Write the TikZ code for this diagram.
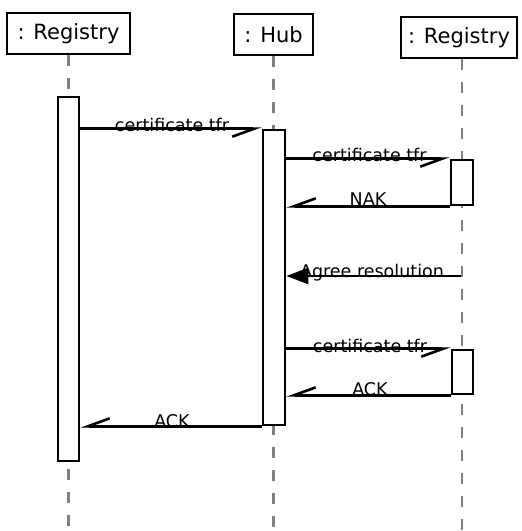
\documentclass[tikz,border=0pt]{standalone}
\usepackage{fontspec}
\setmainfont{DejaVu Sans}
\usetikzlibrary{arrows.meta}
\tikzset{
  objbox/.style={draw, line width=2.7pt, fill=white, inner sep=0pt,
    minimum height=41pt, font=\fontsize{21}{25}\selectfont},
  lifeline/.style={draw=black!50, line width=2.6pt, dash pattern=on 11pt off 12pt},
  actbar/.style={draw, line width=2.7pt, fill=white, inner sep=0pt},
  msg/.style={line width=2.6pt, -{Straight Barb[right,length=22pt,width=16pt,line width=2.6pt]}},
  asyncmsg/.style={line width=2.6pt, -{Triangle[length=22pt,width=16pt]}},
  lbl/.style={anchor=base, inner sep=0pt, font=\fontsize{17.5}{21}\selectfont}
}
\begin{document}
\begin{tikzpicture}[x=1pt,y=-1pt]
\useasboundingbox (0,0) rectangle (522,531);

% object heads
\node[objbox, minimum width=123pt] (regA) at (68.5,33.5) {: Registry};
\node[objbox, minimum width=79pt]  (hub)  at (273.5,34.5) {: Hub};
\node[objbox, minimum width=116pt] (regB) at (459,37.5) {: Registry};

% lifelines
\coordinate (endA) at (68.5,531);
\coordinate (endH) at (273.5,531);
\coordinate (endB) at (462,531);
\draw[lifeline] (regA.south) -- (endA);
\draw[lifeline] (hub.south) -- (endH);
\draw[lifeline] (regB.south -| endB) -- (endB);

% activation bars
\node[actbar, minimum width=21pt, minimum height=364pt] (aL)  at (68.5,279) {};
\node[actbar, minimum width=22pt, minimum height=295pt] (aH)  at (274,277.5) {};
\node[actbar, minimum width=22pt, minimum height=45pt]  (aR1) at (462,182.5) {};
\node[actbar, minimum width=21pt, minimum height=44pt]  (aR2) at (462.5,372) {};

% messages
\draw[msg] (aL.east |- aH.north) -- (aH.north west);
\node[lbl] (m1) at (172,131) {certificate tfr};

\draw[msg] (aH.east |- aR1.north) -- (aR1.north west);
\node[lbl] (m2) at (369.5,161) {certificate tfr};

\draw[msg] (aR1.south west) -- (aH.east |- aR1.south);
\node[lbl] (m3) at (368,205) {NAK};

\coordinate (agreeFrom) at (461,276);
\draw[asyncmsg] (agreeFrom) -- (aH.east |- agreeFrom);
\node[lbl] (m4) at (372,277) {Agree resolution};

\draw[msg] (aH.east |- aR2.north) -- (aR2.north west);
\node[lbl] (m5) at (370,352) {certificate tfr};

\draw[msg] (aR2.south west) -- (aH.east |- aR2.south);
\node[lbl] (m6) at (370,395) {ACK};

\draw[msg] (aH.south west) -- (aL.east |- aH.south);
\node[lbl] (m7) at (172,427) {ACK};
\end{tikzpicture}
\end{document}
